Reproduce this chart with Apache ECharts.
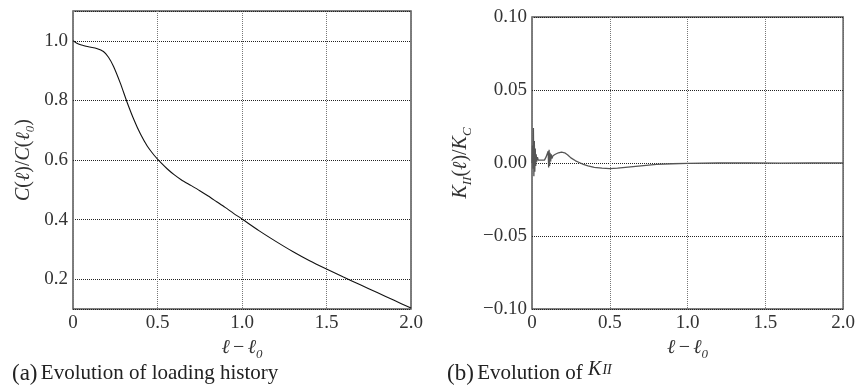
<!DOCTYPE html>
<html><head><meta charset="utf-8">
<script src="https://cdn.jsdelivr.net/npm/echarts@6/dist/echarts.min.js"></script>
<style>html,body{margin:0;padding:0;background:#fff}#c{width:858px;height:387px}</style>
</head><body><div id="c"></div>
<script>
// Left panel: C(l)/C(l0) vs l - l0
const leftX = [0,0.02,0.05,0.10,0.14,0.18,0.21,0.24,0.28,0.32,0.36,0.40,0.44,0.48,0.52,0.56,0.60,0.64,0.70,0.75,0.80,0.85,0.90,0.95,1.0,1.1,1.2,1.3,1.4,1.5,1.6,1.7,1.8,1.9,2.0];
const leftY = [1.0,0.993,0.986,0.979,0.974,0.964,0.945,0.914,0.858,0.794,0.736,0.686,0.646,0.616,0.591,0.569,0.550,0.534,0.514,0.497,0.479,0.460,0.441,0.421,0.402,0.363,0.327,0.293,0.262,0.234,0.207,0.181,0.155,0.129,0.103];
// Right panel: K_II(l)/K_C vs l - l0
const rightX = [0,0.003,0.006,0.009,0.012,0.015,0.018,0.021,0.024,0.027,0.03,0.035,0.04,0.05,0.06,0.07,0.08,0.09,0.10,0.104,0.107,0.11,0.113,0.116,0.12,0.124,0.128,0.135,0.15,0.17,0.19,0.21,0.23,0.25,0.28,0.30,0.33,0.36,0.40,0.45,0.50,0.55,0.60,0.70,0.80,0.90,1.0,1.2,1.4,1.6,1.8,2.0];
const rightY = [0,0.012,-0.004,0.024,-0.009,0.015,-0.006,0.010,-0.002,0.006,0.001,0.004,0.002,0.003,0.002,0.003,0.002,0.004,0.003,0.008,-0.003,0.009,-0.002,0.007,0.001,0.006,0.003,0.005,0.006,0.007,0.0075,0.007,0.0055,0.0035,0.0015,0.0005,-0.001,-0.002,-0.003,-0.0035,-0.0039,-0.0035,-0.003,-0.002,-0.001,-0.0005,-0.0002,0,0,-0.0001,0,0];
const xTicksLeft = ['0','0.5','1.0','1.5','2.0'];

const SERIF = '"Liberation Serif","DejaVu Serif",serif';
const pair = (xs, ys) => xs.map((x, i) => [x, ys[i]]);
const chart = echarts.init(document.getElementById('c'));
const axisFont = {fontFamily: SERIF, fontSize: 19, color: '#333'};
const hLine = {show: true, lineStyle: {type: 'dotted', color: '#222', width: 1}};
const vLine = {show: true, lineStyle: {type: 'dotted', color: '#777', width: 1}};
const xLabelFmt = v => { const i = Math.round(v / 0.5); return xTicksLeft[i] !== undefined ? xTicksLeft[i] : ''; };
const rich = {
  i: {fontFamily: SERIF, fontStyle: 'italic', fontSize: 20, color: '#333'},
  n: {fontFamily: SERIF, fontSize: 20, color: '#333'},
  s: {fontFamily: SERIF, fontStyle: 'italic', fontSize: 13, color: '#333', verticalAlign: 'bottom', lineHeight: 27}
};
chart.setOption({
  animation: false,
  grid: [
    {left: 73, top: 11, width: 338, height: 298, show: true, borderColor: '#555', borderWidth: 1.5, backgroundColor: 'transparent'},
    {left: 532, top: 17, width: 314, height: 292, show: true, borderColor: '#555', borderWidth: 1.5, backgroundColor: 'transparent'}
  ],
  xAxis: [
    {gridIndex: 0, type: 'value', min: 0, max: 2, interval: 0.5, axisLine: {show: false}, axisTick: {show: false},
     splitLine: vLine, axisLabel: Object.assign({margin: 5, formatter: xLabelFmt}, axisFont),
     name: '{i|ℓ} {n|−} {i|ℓ}{s|0}', nameLocation: 'middle', nameGap: 20, nameTextStyle: {rich}},
    {gridIndex: 1, type: 'value', min: 0, max: 2, interval: 0.5, axisLine: {show: false}, axisTick: {show: false},
     splitLine: vLine, axisLabel: Object.assign({margin: 5, formatter: xLabelFmt}, axisFont),
     name: '{i|ℓ} {n|−} {i|ℓ}{s|0}', nameLocation: 'middle', nameGap: 22, nameTextStyle: {rich}}
  ],
  yAxis: [
    {gridIndex: 0, type: 'value', min: 0.1, max: 1.1, splitNumber: 5, axisLine: {show: false}, axisTick: {show: false},
     splitLine: hLine, axisLabel: Object.assign({margin: 5, showMinLabel: false, showMaxLabel: false, formatter: v => v.toFixed(1)}, axisFont),
     name: '{i|C}{n|(}{i|ℓ}{n|)/}{i|C}{n|(}{i|ℓ}{s|0}{n|)}', nameLocation: 'middle', nameGap: 36, nameRotate: 90, nameTextStyle: {rich}},
    {gridIndex: 1, type: 'value', min: -0.1, max: 0.1, interval: 0.05, axisLine: {show: false}, axisTick: {show: false},
     splitLine: hLine, axisLabel: Object.assign({margin: 5, formatter: v => (v < 0 ? '−' : '') + Math.abs(v).toFixed(2)}, axisFont),
     name: '{i|K}{s|II}{n|(}{i|ℓ}{n|)/}{i|K}{s|C}', nameLocation: 'middle', nameGap: 58, nameRotate: 90, nameTextStyle: {rich}}
  ],
  series: [
    {type: 'line', xAxisIndex: 0, yAxisIndex: 0, data: pair(leftX, leftY), smooth: 0.25, showSymbol: false,
     lineStyle: {color: '#111', width: 1.1}},
    {type: 'line', xAxisIndex: 1, yAxisIndex: 1, data: pair(rightX, rightY), smooth: false, showSymbol: false,
     lineStyle: {color: '#555', width: 1.3}}
  ],
  graphic: [
    {type: 'text', left: 12, top: 362, style: {text: '{p|(a)} {t|Evolution of loading history}', rich: {
      p: {fontFamily: SERIF, fontSize: 23, fill: '#222'},
      t: {fontFamily: SERIF, fontSize: 21, fill: '#222'}}}},
    {type: 'text', left: 447, top: 362, style: {text: '{p|(b)} {t|Evolution of}', rich: {
      p: {fontFamily: SERIF, fontSize: 23, fill: '#222'},
      t: {fontFamily: SERIF, fontSize: 21, fill: '#222'}}}},
    {type: 'text', left: 588, top: 360, style: {text: '{k|K}{g| }{s|II}', rich: {
      k: {fontFamily: SERIF, fontStyle: 'italic', fontSize: 20, fill: '#222'},
      g: {fontSize: 4},
      s: {fontFamily: SERIF, fontStyle: 'italic', fontSize: 14, fill: '#222'}}}}
  ]
});
</script></body></html>
